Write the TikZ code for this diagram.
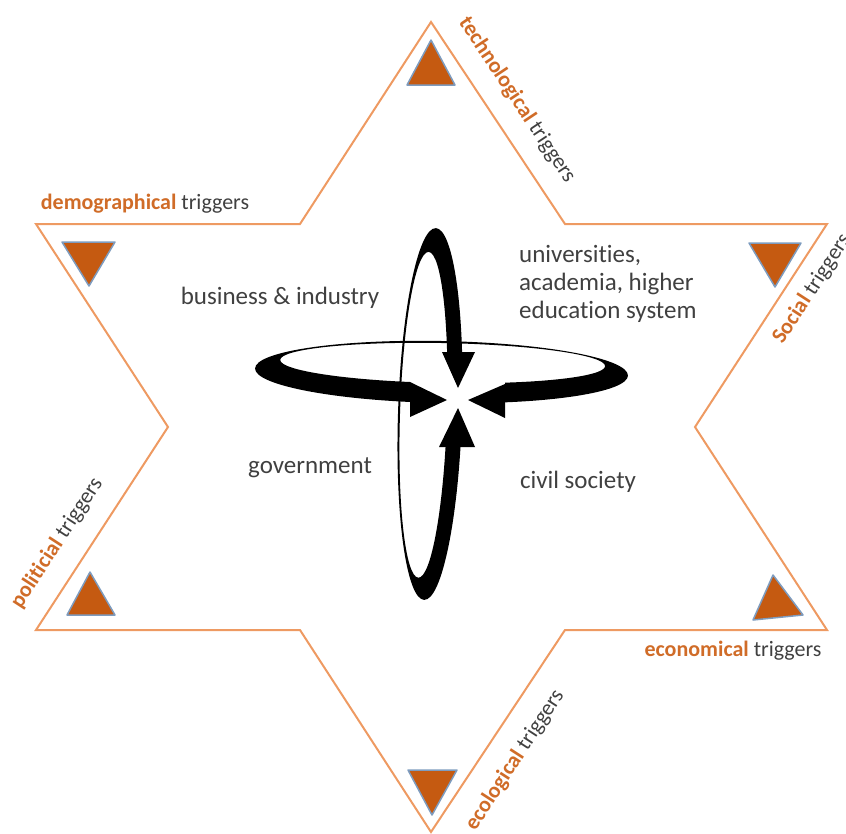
\documentclass[tikz,border=0pt]{standalone}
\usepackage{fontspec}
\setmainfont{Carlito}[Ligatures=NoCommon]
\usetikzlibrary{calc}
\definecolor{trigorange}{HTML}{C55A11}
\definecolor{trigtxt}{HTML}{D06C28}
\definecolor{starline}{HTML}{EE9A62}
\definecolor{trigblue}{HTML}{7E9CBF}
\definecolor{txtgray}{HTML}{404040}
\newcommand{\trig}[1]{\textcolor{trigtxt}{\textbf{#1}} triggers}

\begin{document}
\begin{tikzpicture}[x=1pt,y=-1pt,
	trigshape/.style={fill=trigorange,draw=trigblue,line width=1.5pt,line join=round},
	trigtext/.style={font=\fontsize{22}{26}\selectfont,text=txtgray,inner sep=0pt},
	actor/.style={font=\fontsize{25}{28}\selectfont,text=txtgray,align=left,inner sep=0pt}]
	\useasboundingbox (0,0) rectangle (846,833);
	\draw[starline,line width=2pt,line join=miter] (431,22) -- (565,224) -- (827,224) -- (695,427)
		-- (827,630) -- (565,630) -- (431,832) -- (300,630) -- (36,630) -- (168,427)
		-- (36,224) -- (300,224) -- cycle;
	\draw[trigshape] (431,40) -- (455,85) -- (407,85) -- cycle;
	\draw[trigshape] (62,242) -- (115,242) -- (89,286) -- cycle;
	\draw[trigshape] (749,243) -- (801,243) -- (775,287) -- cycle;
	\draw[trigshape] (90,572) -- (115,615) -- (67,615) -- cycle;
	\draw[trigshape] (773,575) -- (803,615) -- (753,620) -- cycle;
	\draw[trigshape] (408,770) -- (457,770) -- (432,815) -- cycle;
	\node[trigtext] (demo) at (145,204) {\trig{demographical}};
	\node[trigtext,rotate=-56.4] (techno) at (517,100) {\trig{technological}};
	\node[trigtext,rotate=57] (social) at (812,289) {\trig{Social}};
	\node[trigtext,rotate=57] (polit) at (57,543) {\trig{politicial}};
	\node[trigtext] (econ) at (733,651) {\trig{economical}};
	\node[trigtext,rotate=57] (ecol) at (515,760) {\trig{ecological}};
	\fill[even odd rule,rotate around={-1.1:(441.5,372)}] (441.5,372) ellipse [x radius=186.5,y radius=31]
		(442.5,363) ellipse [x radius=162.5,y radius=20];
	\fill[even odd rule,rotate around={-1.8:(430,414)}] (430,414) ellipse [x radius=32,y radius=186]
		(423.5,415) ellipse [x radius=23.5,y radius=163];
	\fill[white] (410,352) rectangle (505,447);
	\fill (410,382) -- (447,400) -- (410,417) -- cycle;
	\fill (505,384) -- (468,400) -- (505,418) -- cycle;
	\fill (442,352) -- (458,388) -- (475,352) -- cycle;
	\fill (439,447) -- (458,408) -- (475,447) -- cycle;
	\node[actor] (business) at (280,298) {business \& industry};
	\node[actor,anchor=west] (univ) at (519,284) {universities,\\academia, higher\\education system};
	\node[actor] (govt) at (310,468) {government};
	\node[actor] (civil) at (578,482) {civil society};
\end{tikzpicture}
\end{document}
